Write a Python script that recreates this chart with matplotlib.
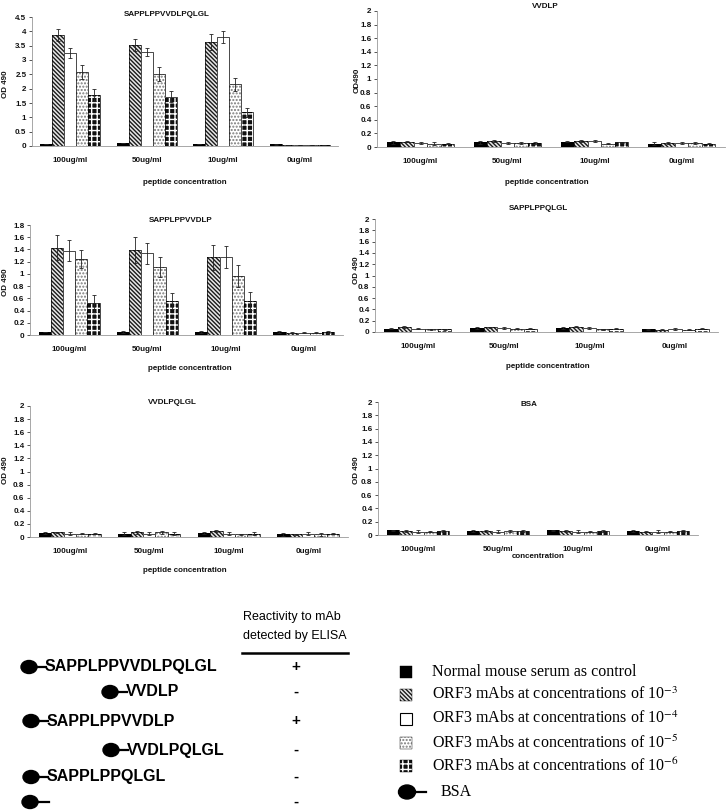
import numpy as np
import matplotlib.pyplot as plt
from matplotlib.patches import Ellipse, Rectangle
from matplotlib.ticker import MultipleLocator, FormatStrFormatter

plt.rcParams['font.family'] = 'Liberation Sans'
plt.rcParams['mathtext.fontset'] = 'stix'
plt.rcParams['hatch.linewidth'] = 1.0

# ------------------------------------------------------------
# Data (OD 490)
# rows = peptide concentration, columns = antibody series
# ------------------------------------------------------------
concentrations = ['100ug/ml', '50ug/ml', '10ug/ml', '0ug/ml']

series_labels = ['Normal mouse serum as control',
                 'ORF3 mAbs at concentrations of 10$^{-3}$',
                 'ORF3 mAbs at concentrations of 10$^{-4}$',
                 'ORF3 mAbs at concentrations of 10$^{-5}$',
                 'ORF3 mAbs at concentrations of 10$^{-6}$']

od_full = [[0.08, 3.88, 3.25, 2.58, 1.78],
           [0.10, 3.53, 3.28, 2.52, 1.72],
           [0.08, 3.63, 3.80, 2.15, 1.17],
           [0.06, 0.04, 0.04, 0.04, 0.04]]
err_full = [[0.00, 0.20, 0.18, 0.25, 0.20],
            [0.00, 0.22, 0.15, 0.25, 0.20],
            [0.00, 0.28, 0.22, 0.23, 0.15],
            [0.01, 0.01, 0.01, 0.01, 0.01]]

od_vvdlp = [[0.07, 0.08, 0.06, 0.05, 0.05],
            [0.07, 0.09, 0.06, 0.06, 0.06],
            [0.08, 0.09, 0.09, 0.05, 0.07],
            [0.05, 0.06, 0.06, 0.06, 0.05]]
err_vvdlp = [[0.02, 0.01, 0.01, 0.02, 0.01],
             [0.02, 0.01, 0.02, 0.02, 0.02],
             [0.01, 0.01, 0.01, 0.01, 0.01],
             [0.02, 0.01, 0.01, 0.02, 0.01]]

od_sappl_vvdlp = [[0.05, 1.43, 1.38, 1.24, 0.52],
                  [0.05, 1.39, 1.34, 1.11, 0.56],
                  [0.05, 1.27, 1.27, 0.97, 0.56],
                  [0.05, 0.04, 0.04, 0.04, 0.05]]
err_sappl_vvdlp = [[0.00, 0.20, 0.17, 0.15, 0.14],
                   [0.01, 0.21, 0.17, 0.16, 0.13],
                   [0.01, 0.21, 0.18, 0.18, 0.15],
                   [0.01, 0.01, 0.01, 0.01, 0.01]]

od_sappl_qlgl = [[0.06, 0.09, 0.06, 0.05, 0.05],
                 [0.07, 0.08, 0.07, 0.06, 0.06],
                 [0.07, 0.09, 0.07, 0.05, 0.06],
                 [0.05, 0.04, 0.05, 0.04, 0.06]]
err_sappl_qlgl = [[0.01, 0.02, 0.01, 0.01, 0.01],
                  [0.01, 0.01, 0.02, 0.01, 0.01],
                  [0.01, 0.01, 0.02, 0.01, 0.01],
                  [0.01, 0.01, 0.02, 0.01, 0.01]]

od_vvdlpqlgl = [[0.06, 0.07, 0.05, 0.05, 0.05],
                [0.05, 0.07, 0.05, 0.07, 0.05],
                [0.06, 0.09, 0.05, 0.04, 0.05],
                [0.04, 0.04, 0.05, 0.04, 0.05]]
err_vvdlpqlgl = [[0.01, 0.01, 0.02, 0.01, 0.01],
                 [0.02, 0.02, 0.02, 0.02, 0.02],
                 [0.01, 0.01, 0.02, 0.01, 0.02],
                 [0.02, 0.01, 0.02, 0.02, 0.01]]

od_bsa = [[0.07, 0.06, 0.05, 0.05, 0.06],
          [0.06, 0.06, 0.05, 0.06, 0.06],
          [0.07, 0.06, 0.05, 0.05, 0.06],
          [0.06, 0.05, 0.05, 0.05, 0.06]]
err_bsa = [[0.01, 0.01, 0.02, 0.01, 0.01],
           [0.01, 0.01, 0.02, 0.01, 0.01],
           [0.01, 0.01, 0.02, 0.01, 0.01],
           [0.01, 0.01, 0.02, 0.01, 0.01]]

# peptide table
peptides = ['SAPPLPPVVDLPQLGL', 'VVDLP', 'SAPPLPPVVDLP', 'VVDLPQLGL', 'SAPPLPPQLGL', '']
reactivity = ['+', '-', '+', '-', '-', '-']

# ------------------------------------------------------------
# Styles / layout (pixels of the 726x810 figure)
# ------------------------------------------------------------
W, H = 726, 810
styles = [dict(face='black', hc='black', hatch=None),
          dict(face='#e8e8e8', hc='#1a1a1a', hatch='\\' * 8),
          dict(face='white', hc='white', hatch=None),
          dict(face='white', hc='#7a7a7a', hatch='.....'),
          dict(face='#111111', hc='white', hatch='+++')]

def fx(px):
    return px / W

def fy(py):
    return 1 - py / H

fig = plt.figure(figsize=(W / 100, H / 100), dpi=100)

txt = dict(fontsize=5.8, fontweight='bold', color='#111111')

def draw_panel(rect, means, errs, ymax, ystep, title, tpos, xlabel, xlpos, ylabel, ylpos):
    l, t, r, b = rect
    ax = fig.add_axes([fx(l), fy(b), (r - l) / W, (b - t) / H])
    means = np.array(means)
    errs = np.array(errs)
    x = np.arange(len(concentrations))
    n = means.shape[1]
    w = 0.78 / n
    for k in range(n):
        xs = x - 0.39 + w * (k + 0.5)
        st = styles[k]
        ax.bar(xs, means[:, k], w, color=st['face'], edgecolor=st['hc'],
               hatch=st['hatch'], linewidth=0)
        ax.bar(xs, means[:, k], w, fill=False, edgecolor='black', linewidth=0.5)
        ax.errorbar(xs, means[:, k], yerr=errs[:, k], fmt='none', ecolor='#222222',
                    elinewidth=0.6, capsize=1.6, capthick=0.6)
    ax.set_xlim(-0.5, len(concentrations) - 0.5)
    ax.set_ylim(0, ymax)
    ax.yaxis.set_major_locator(MultipleLocator(ystep))
    ax.yaxis.set_major_formatter(FormatStrFormatter('%g'))
    ax.set_xticks(x)
    ax.set_xticklabels(concentrations)
    ax.tick_params(axis='x', length=0, pad=8, labelsize=5.8, colors='#111111')
    ax.tick_params(axis='y', length=2, width=0.5, pad=2, labelsize=5.8,
                   colors='#111111', direction='out')
    for lab in ax.get_xticklabels() + ax.get_yticklabels():
        lab.set_fontweight('bold')
    for s in ['top', 'right']:
        ax.spines[s].set_visible(False)
    for s in ['left', 'bottom']:
        ax.spines[s].set_color('#999999')
        ax.spines[s].set_linewidth(0.6)
    ax.patch.set_alpha(0)
    fig.text(fx(tpos[0]), fy(tpos[1]), title, ha='center', va='center', **txt)
    fig.text(fx(xlpos[0]), fy(xlpos[1]), xlabel, ha='center', va='center', **txt)
    fig.text(fx(ylpos[0]), fy(ylpos[1]), ylabel, ha='center', va='center',
             rotation=90, **txt)
    return ax

draw_panel((32, 17, 338, 146), od_full, err_full, 4.5, 0.5, 'SAPPLPPVVDLPQLGL',
           (167, 14), 'peptide concentration', (185, 183), 'OD 490', (6, 84))
draw_panel((377, 11, 725, 147), od_vvdlp, err_vvdlp, 2, 0.2, 'VVDLP',
           (545, 7), 'peptide concentration', (547, 183), 'OD490', (357, 80))
draw_panel((30, 225, 343, 335), od_sappl_vvdlp, err_sappl_vvdlp, 1.8, 0.2, 'SAPPLPPVVDLP',
           (181, 221), 'peptide concentration', (190, 369), 'OD 490', (6, 282))
draw_panel((375, 219, 718, 332), od_sappl_qlgl, err_sappl_qlgl, 2, 0.2, 'SAPPLPPQLGL',
           (538, 209), 'peptide concentration', (548, 366), 'OD 490', (356, 270))
draw_panel((30, 406, 348, 537), od_vvdlpqlgl, err_vvdlpqlgl, 2, 0.2, 'VVDLPQLGL',
           (172, 403), 'peptide concentration', (185, 570), 'OD 490', (6, 470))
draw_panel((378, 402, 698, 535), od_bsa, err_bsa, 2, 0.2, 'BSA',
           (529, 404), 'concentration', (538, 557), 'OD 490', (357, 470))

# ------------------------------------------------------------
# Bottom: peptide table and legend (pixel coordinates)
# ------------------------------------------------------------
top = 590
axb = fig.add_axes([0, 0, 1, (H - top) / H])
axb.set_xlim(0, W)
axb.set_ylim(H, top)
axb.axis('off')

row_y = [667, 692, 721, 750, 777, 802]
indent = [0, 81, 2, 82, 2, 1]

axb.text(243, 617, 'Reactivity to mAb', fontsize=9, ha='left', va='center')
axb.text(243, 636, 'detected by ELISA', fontsize=9, ha='left', va='center')
axb.plot([242, 348], [653, 653], color='black', linewidth=1.8)

for pep, sign, yy, dx in zip(peptides, reactivity, row_y, indent):
    cx = 29 + dx
    axb.add_patch(Ellipse((cx, yy), 16, 13, color='black'))
    end = cx + 17 if pep else cx + 19
    axb.plot([cx + 6, end], [yy, yy], color='black', linewidth=1.6)
    if pep:
        axb.text(cx + 16, yy, pep, fontsize=11.5, fontweight='bold',
                 ha='left', va='center')
    axb.text(296, yy, sign, fontsize=11, fontweight='bold', ha='center', va='center')

leg_y = [672, 695, 719, 743, 766]
for k, (lab, yy) in enumerate(zip(series_labels, leg_y)):
    st = styles[k]
    axb.add_patch(Rectangle((400, yy - 6), 12, 12, facecolor=st['face'],
                            edgecolor=st['hc'], hatch=st['hatch'], linewidth=0))
    axb.add_patch(Rectangle((400, yy - 6), 12, 12, fill=False,
                            edgecolor='black', linewidth=0.8 if k == 2 else 0.3))
    axb.text(432, yy, lab, fontsize=11.5, family='Liberation Serif',
             ha='left', va='center')

axb.add_patch(Ellipse((407, 792), 17, 14, color='black'))
axb.plot([410, 426], [792, 792], color='black', linewidth=1.6)
axb.text(441, 792, 'BSA', fontsize=11.5, family='Liberation Serif',
         ha='left', va='center')

fig.savefig('out.png', dpi=100)
